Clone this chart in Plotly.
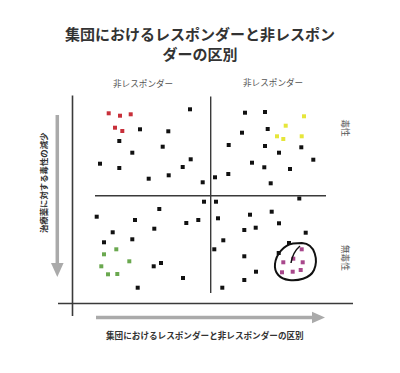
import plotly.graph_objects as go

# ---- data (positions, in picture units) ----
black_x = [190, 140, 168.3, 119.3, 162.7, 132.3, 190.7, 100, 119.3, 182.7, 148.7, 168.7, 202.7, 215,
           245, 265, 242, 267.7, 228.7, 265, 279, 301.3, 313.3, 252, 264.3, 290, 228.3, 270.7, 299.3,
           204, 216, 159.3, 96.7, 135, 186.3, 198.3, 218, 154.3, 112.7, 132.3, 104, 214.3, 153.7, 161, 183, 137.7,
           250, 271.7, 279, 244.3, 255.7, 305.7, 223.3, 289, 278.7, 244.3, 256, 244.3, 222.3]
black_y = [109.3, 129.3, 131.3, 141, 146.7, 152.7, 159.3, 163.7, 168, 167, 178.7, 175.3, 182.3, 177.3,
           112.7, 112, 132.7, 129, 145, 146, 152.7, 147.3, 159.7, 162.7, 167.3, 169, 174, 183.3, 198.5,
           201.7, 201.7, 209, 216.7, 220, 223, 220, 218.3, 228.7, 232.3, 239.3, 242.3, 249.3, 266.3, 263, 278, 287.7,
           214.7, 211.7, 223.3, 230, 227.7, 232.7, 240.3, 243, 253, 256.3, 271.7, 280, 287.7]

red_x = [108.7, 120, 130.7, 115, 122.3]
red_y = [113.3, 115.7, 114.3, 127.7, 131]

yellow_x = [304, 285.7, 277, 283.3, 301.7]
yellow_y = [116.3, 125.7, 136.3, 139, 136.3]

green_x = [116.3, 104, 129.3, 101.3, 108, 117.3]
green_y = [249.3, 254.3, 261.3, 266.3, 274.3, 274]

purple_x = [301.7, 283.3, 293.3, 302.7, 282, 292.7, 300.7]
purple_y = [249.3, 262.3, 258.7, 262.3, 272.3, 271.7, 270]

title_text = "集団におけるレスポンダーと非レスポン<br>ダーの区別"
x_label = "集団におけるレスポンダーと非レスポンダーの区別"
y_label = "治療薬に対する毒性の減少"
quad_labels = ["非レスポンダー", "非レスポンダー"]
side_labels = ["毒性", "無毒性"]

FONT = "Noto Sans CJK JP"
fig = go.Figure()

def add_pts(xs, ys, color):
    fig.add_trace(go.Scatter(x=xs, y=ys, mode="markers", hoverinfo="skip",
                             marker=dict(symbol="square", size=4, color=color,
                                         line=dict(width=0))))

add_pts(black_x, black_y, "#111111")
add_pts(red_x, red_y, "#c8303a")
add_pts(yellow_x, yellow_y, "#e6e63a")
add_pts(green_x, green_y, "#6aa84f")
add_pts(purple_x, purple_y, "#a8488c")

line_c = "#3a3a3a"
shapes = [
    # main axes
    dict(type="line", x0=72.5, x1=72.5, y0=95.5, y1=316, line=dict(color=line_c, width=1.6)),
    dict(type="line", x0=58, x1=353, y0=303.5, y1=303.5, line=dict(color=line_c, width=1.6)),
    # quadrant dividers
    dict(type="line", x0=210.7, x1=210.7, y0=96.5, y1=293, line=dict(color=line_c, width=1.4)),
    dict(type="line", x0=95, x1=326, y0=195.7, y1=195.7, line=dict(color=line_c, width=1.4)),
    # grey arrows
    dict(type="line", x0=96, x1=313, y0=317.5, y1=317.5, line=dict(color="#aaaaaa", width=3.5)),
    dict(type="path", path="M 312,311.8 L 325,317.5 L 312,323.2 Z",
         fillcolor="#aaaaaa", line=dict(width=0)),
    dict(type="line", x0=57.3, x1=57.3, y0=115, y1=264, line=dict(color="#aaaaaa", width=3.5)),
    dict(type="path", path="M 51,263 L 63.6,263 L 57.3,277 Z",
         fillcolor="#aaaaaa", line=dict(width=0)),
    # hand drawn loop around responders
    dict(type="path",
         path="M 302,243 C 316,244 318,261 314,270 C 310,279 297,281 289,280 "
              "C 280,279 274,273 275,264 C 276,254 284,245 293,243.5 C 297,243 300,243 302,243",
         line=dict(color="#111111", width=2)),
    dict(type="path", path="M 291,263 C 292,257 294,251 300,246",
         line=dict(color="#111111", width=1.5)),
]

annotations = [
    dict(x=200, y=43, text="<b>" + title_text + "</b>", showarrow=False,
         font=dict(family=FONT, size=15, color="#333333"), align="center"),
    dict(x=205, y=335, text="<b>" + x_label + "</b>", showarrow=False,
         font=dict(family=FONT, size=8.6, color="#333333")),
    dict(x=43, y=183, text="<b>" + y_label + "</b>", showarrow=False, textangle=-90,
         font=dict(family=FONT, size=8.4, color="#333333")),
    dict(x=143.3, y=83.3, text=quad_labels[0], showarrow=False,
         font=dict(family=FONT, size=8.6, color="#555555")),
    dict(x=273, y=82, text=quad_labels[1], showarrow=False,
         font=dict(family=FONT, size=8.6, color="#555555")),
    dict(x=346, y=128.5, text=side_labels[0], showarrow=False, textangle=90,
         font=dict(family=FONT, size=8.6, color="#555555")),
    dict(x=346, y=258, text=side_labels[1], showarrow=False, textangle=90,
         font=dict(family=FONT, size=8.6, color="#555555")),
]

fig.update_layout(
    width=400, height=373,
    margin=dict(l=0, r=0, t=0, b=0),
    paper_bgcolor="white", plot_bgcolor="white",
    showlegend=False,
    xaxis=dict(range=[0, 400], visible=False, fixedrange=True),
    yaxis=dict(range=[373, 0], visible=False, fixedrange=True),
    shapes=shapes, annotations=annotations,
)

fig.write_html("out.html", config={"displayModeBar": False},
               post_script="document.body.style.margin='0';document.body.style.overflow='hidden';")
